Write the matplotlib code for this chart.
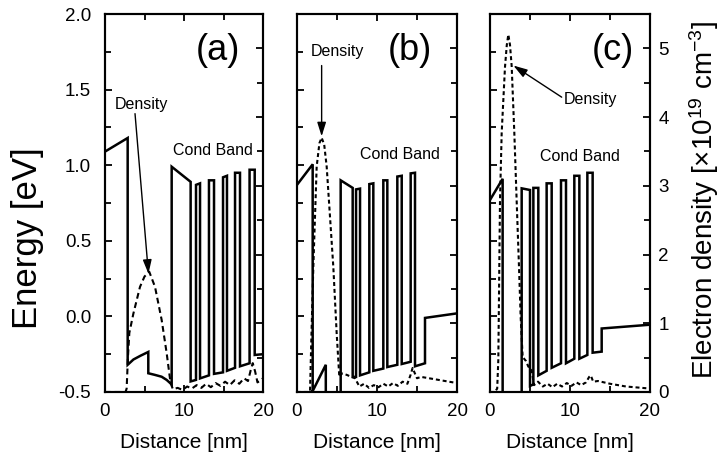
import matplotlib
matplotlib.use("Agg")
import matplotlib.pyplot as plt
from matplotlib.ticker import MultipleLocator, FormatStrFormatter

plt.rcParams['font.family'] = ['Liberation Sans', 'DejaVu Sans']
plt.rcParams['mathtext.fontset'] = 'custom'
plt.rcParams['mathtext.rm'] = 'Liberation Sans'
plt.rcParams['mathtext.it'] = 'Liberation Sans'
plt.rcParams['axes.unicode_minus'] = False

# ---- conduction band profiles (distance in nm, energy in eV) ----
band_a_x = [0, 2.87, 2.87, 3.6, 4.5, 5.48, 5.48, 6.33, 7.17, 7.8, 8.44, 8.44, 10.84, 10.84,
            11.52, 11.52, 12.03, 12.03, 13.16, 13.16, 13.8, 13.8, 14.94, 14.94, 15.44, 15.44,
            16.46, 16.46, 17.09, 17.09, 18.3, 18.3, 18.95, 18.95, 20]
band_a_e = [1.09, 1.18, -0.32, -0.285, -0.26, -0.235, -0.376, -0.387, -0.399, -0.42, -0.45, 0.99,
            0.89, -0.43, -0.42, 0.87, 0.88, -0.41, -0.39, 0.90, 0.90, -0.38, -0.37, 0.92, 0.93,
            -0.36, -0.34, 0.95, 0.95, -0.33, -0.31, 0.97, 0.97, -0.255, -0.25]

band_b_x = [0, 1.96, 1.96, 1.9, 3.6, 3.6, 5.46, 5.46, 6.96, 6.96, 7.38, 7.38, 7.88, 7.88,
            9.04, 9.04, 9.54, 9.54, 10.79, 10.79, 11.29, 11.29, 12.54, 12.54, 13.09, 13.09,
            14.21, 14.21, 14.75, 14.75, 16.0, 16.0, 20]
band_b_e = [0.87, 1.006, -0.6, -0.5, -0.32, -0.8, -0.8, 0.90, 0.85, -0.40, -0.40, 0.84, 0.845,
            -0.39, -0.37, 0.875, 0.88, -0.36, -0.345, 0.90, 0.90, -0.335, -0.32, 0.925, 0.93,
            -0.315, -0.30, 0.946, 0.95, -0.33, -0.31, -0.01, 0.02]

band_c_x = [0, 1.58, 1.58, 3.96, 3.96, 5.0, 5.0, 5.42, 5.42, 6.04, 6.04, 7.08, 7.08, 7.71,
            7.71, 8.875, 8.875, 9.5, 9.5, 10.54, 10.54, 11.17, 11.17, 12.17, 12.17, 12.83,
            12.83, 13.96, 13.96, 20]
band_c_e = [0.77, 0.91, -0.8, -0.8, 0.847, 0.836, -0.46, -0.45, 0.85, 0.85, -0.39, -0.36,
            0.88, 0.88, -0.34, -0.31, 0.90, 0.90, -0.31, -0.28, 0.93, 0.93, -0.28, -0.255,
            0.95, 0.95, -0.24, -0.233, -0.08, -0.055]

# ---- electron density (10^19 cm^-3) ----
dens_a_x = [0, 2.6, 2.74, 2.9, 3.08, 3.59, 4.43, 5.0, 5.6, 6.33, 7.17, 7.8, 8.3, 8.6, 9.2,
            9.8, 10.4, 11.0, 11.6, 12.2, 12.8, 13.4, 14.0, 14.6, 15.2, 15.8, 16.4, 17.0, 17.6,
            18.1, 18.45, 18.7, 19.0, 19.3, 19.7, 20]
dens_a_n = [0, 0, 0.05, 0.5, 0.86, 1.14, 1.53, 1.68, 1.75, 1.53, 1.05, 0.57, 0.13, 0.04, 0.06,
            0.03, 0.08, 0.05, 0.1, 0.06, 0.12, 0.07, 0.13, 0.09, 0.15, 0.1, 0.17, 0.12, 0.2,
            0.16, 0.32, 0.42, 0.3, 0.14, 0.17, 0.2]

dens_b_x = [0, 1.5, 1.63, 1.8, 2.04, 2.46, 2.8, 3.08, 3.4, 3.71, 4.125, 4.54, 4.96, 5.29, 5.6,
            6.2, 6.8, 7.25, 7.8, 8.4, 9.0, 9.6, 10.2, 10.8, 11.4, 12.0, 12.6, 13.2, 13.8, 14.2,
            14.45, 14.7, 15.0, 15.5, 16.5, 18, 20]
dens_b_n = [0, 0, 0.02, 0.8, 1.82, 3.28, 3.62, 3.70, 3.6, 3.28, 2.55, 1.82, 0.85, 0.22, 0.27,
            0.25, 0.22, 0.2, 0.08, 0.12, 0.06, 0.1, 0.07, 0.12, 0.08, 0.13, 0.09, 0.15, 0.12,
            0.25, 0.35, 0.28, 0.2, 0.22, 0.2, 0.17, 0.13]

dens_c_x = [0, 0.6, 0.9, 1.04, 1.25, 1.46, 1.875, 2.1, 2.29, 2.5, 2.71, 3.04, 3.33, 3.625,
            3.83, 4.08, 4.5, 4.79, 5.2, 5.5, 6.0, 6.6, 7.2, 7.8, 8.4, 9.0, 9.6, 10.2, 10.8,
            11.4, 12.0, 12.4, 12.6, 12.9, 13.5, 15, 17, 20]
dens_c_n = [0, 0, 0.05, 0.47, 2.79, 3.77, 4.73, 5.05, 5.2, 5.05, 4.74, 3.77, 2.79, 1.82, 1.10,
            0.51, 0.45, 0.37, 0.32, 0.1, 0.15, 0.08, 0.12, 0.07, 0.12, 0.08, 0.13, 0.09, 0.14,
            0.1, 0.14, 0.22, 0.24, 0.15, 0.16, 0.12, 0.08, 0.05]

panel_tags = ['(a)', '(b)', '(c)']
tag_pos = [(14.3, 1.76), (14.1, 1.76), (15.4, 1.76)]
cond_pos = [(13.7, 1.10), (12.9, 1.07), (11.25, 1.06)]
# "Density" label position and arrow (start, tip) in density units
dens_label = [(4.56, 4.18), (5.06, 4.95), (12.6, 4.25)]
dens_arrow = [((3.8, 4.05), (5.5, 1.72)),
              ((3.08, 4.75), (3.08, 3.72)),
              ((8.96, 4.29), (2.92, 4.75))]
dash_style = [(0, (2.8, 1.8)), (0, (1.9, 1.4)), (0, (1.9, 1.4))]

bands = [(band_a_x, band_a_e), (band_b_x, band_b_e), (band_c_x, band_c_e)]
dens = [(dens_a_x, dens_a_n), (dens_b_x, dens_b_n), (dens_c_x, dens_c_n)]

fig = plt.figure(figsize=(7.22, 4.59), dpi=100)
lefts = [105, 297, 490]
widths = [158, 160, 160]
W, H = 722.0, 459.0
bottom = 1 - 392 / H
height = 378 / H

for i in range(3):
    ax = fig.add_axes([lefts[i] / W, bottom, widths[i] / W, height])
    ax2 = ax.twinx()
    bx, be = bands[i]
    ax.plot(bx, be, color='black', lw=1.8, solid_joinstyle='miter')
    dx, dn = dens[i]
    ax2.plot(dx, dn, color='black', lw=1.5, ls=dash_style[i])

    ax.set_xlim(0, 20)
    ax.set_ylim(-0.5, 2.0)
    ax2.set_ylim(0, 5.5)

    ax.xaxis.set_major_locator(MultipleLocator(10))
    ax.xaxis.set_minor_locator(MultipleLocator(5))
    ax.yaxis.set_major_locator(MultipleLocator(0.5))
    ax.yaxis.set_minor_locator(MultipleLocator(0.25))
    ax.yaxis.set_major_formatter(FormatStrFormatter('%.1f'))
    ax2.yaxis.set_major_locator(MultipleLocator(1))
    ax2.yaxis.set_minor_locator(MultipleLocator(0.5))

    ax.tick_params(axis='both', which='both', direction='in', top=True, right=False,
                   width=1.3, labelsize=13.5)
    ax.tick_params(axis='both', which='major', length=5)
    ax.tick_params(axis='both', which='minor', length=4)
    ax.tick_params(axis='x', pad=8)
    ax.tick_params(axis='y', pad=10, labelleft=(i == 0))
    ax2.tick_params(axis='y', which='both', direction='in', width=1.3, labelsize=13.5,
                    pad=6, labelright=(i == 2))
    ax2.tick_params(axis='y', which='major', length=5)
    ax2.tick_params(axis='y', which='minor', length=4)
    for a in (ax, ax2):
        for s in a.spines.values():
            s.set_linewidth(1.5)

    ax.text(*tag_pos[i], panel_tags[i], fontsize=26, ha='center', va='center')
    ax.text(*cond_pos[i], 'Cond Band', fontsize=11.5, ha='center', va='center')
    ax2.text(*dens_label[i], 'Density', fontsize=11.5, ha='center', va='center')
    (sx, sy), (tx, ty) = dens_arrow[i]
    ax2.annotate('', xy=(tx, ty), xytext=(sx, sy),
                 arrowprops=dict(arrowstyle='-|>,head_length=0.7,head_width=0.22',
                                 color='black', lw=1.0, shrinkA=0, shrinkB=0,
                                 mutation_scale=12))

    fig.text((lefts[i] + widths[i] / 2) / W, 1 - 443 / H, 'Distance [nm]',
             fontsize=15, ha='center', va='center')

fig.text(28 / W, 1 - 238 / H, 'Energy [eV]', fontsize=25, rotation=90,
         ha='center', va='center')
fig.text(704 / W, 1 - 200 / H, 'Electron density [×10$^{19}$ cm$^{-3}$]', fontsize=20,
         rotation=90, ha='center', va='center')

fig.savefig('out.png', dpi=100)
